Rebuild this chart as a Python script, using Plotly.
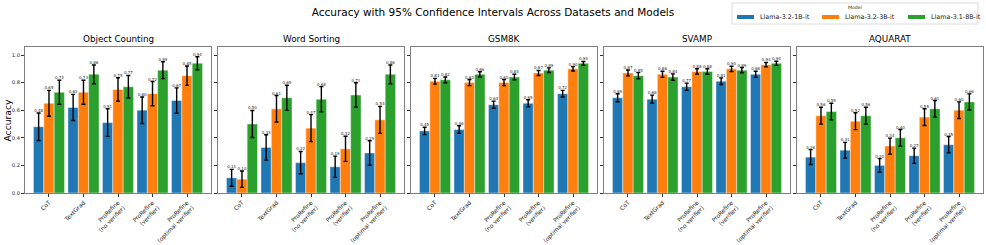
import plotly.graph_objects as go

datasets = ["Object Counting", "Word Sorting", "GSM8K", "SVAMP", "AQUARAT"]
methods = ["CoT", "TextGrad", "ProRefine<br>(no verifier)", "ProRefine<br>(verifier)",
           "ProRefine<br>(optimal verifier)"]
models = ["Llama-3.2-1B-it", "Llama-3.2-3B-it", "Llama-3.1-8B-it"]
colors = ["#1f77b4", "#ff7f0e", "#2ca02c"]

# rows = models (1B, 3B, 8B), columns = methods
object_counting_acc = [[0.48, 0.62, 0.51, 0.60, 0.67],
                       [0.65, 0.73, 0.75, 0.72, 0.85],
                       [0.73, 0.86, 0.77, 0.89, 0.94]]
object_counting_err = [[0.100, 0.095, 0.100, 0.096, 0.092],
                       [0.094, 0.087, 0.085, 0.088, 0.070],
                       [0.087, 0.068, 0.082, 0.061, 0.047]]

word_sorting_acc = [[0.11, 0.33, 0.22, 0.19, 0.29],
                    [0.10, 0.61, 0.47, 0.32, 0.53],
                    [0.50, 0.69, 0.68, 0.71, 0.86]]
word_sorting_err = [[0.061, 0.092, 0.081, 0.077, 0.089],
                    [0.059, 0.096, 0.098, 0.091, 0.098],
                    [0.098, 0.091, 0.091, 0.089, 0.068]]

gsm8k_acc = [[0.45, 0.46, 0.64, 0.65, 0.72],
             [0.81, 0.80, 0.80, 0.87, 0.90],
             [0.82, 0.86, 0.84, 0.89, 0.94]]
gsm8k_err = [[0.027, 0.027, 0.026, 0.026, 0.024],
             [0.021, 0.022, 0.022, 0.018, 0.016],
             [0.021, 0.019, 0.020, 0.017, 0.013]]

svamp_acc = [[0.69, 0.68, 0.77, 0.81, 0.86],
             [0.87, 0.86, 0.88, 0.90, 0.93],
             [0.85, 0.84, 0.88, 0.89, 0.94]]
svamp_err = [[0.029, 0.029, 0.026, 0.024, 0.022],
             [0.021, 0.022, 0.020, 0.019, 0.016],
             [0.022, 0.023, 0.020, 0.019, 0.015]]

aquarat_acc = [[0.26, 0.31, 0.20, 0.27, 0.35],
               [0.56, 0.52, 0.34, 0.55, 0.60],
               [0.59, 0.56, 0.40, 0.61, 0.66]]
aquarat_err = [[0.054, 0.057, 0.049, 0.055, 0.059],
               [0.061, 0.061, 0.058, 0.061, 0.060],
               [0.060, 0.061, 0.060, 0.060, 0.058]]

all_acc = [object_counting_acc, word_sorting_acc, gsm8k_acc, svamp_acc, aquarat_acc]
all_err = [object_counting_err, word_sorting_err, gsm8k_err, svamp_err, aquarat_err]

FONT = "DejaVu Sans"
W, H = 986, 245
L, R, T, B = 25, 3, 47, 52
PW = W - L - R  # 958
PH = H - T - B  # 146
panel_w, gap = 186, 7
bar_w = 0.3
offsets = [-0.3, 0.0, 0.3]


def px_x(x):
    return (x - L) / PW


def px_y(y):
    return (T + PH - y) / PH


fig = go.Figure()
layout = dict()
annotations = []
shapes = []

for k, name in enumerate(datasets):
    xa = "x" if k == 0 else f"x{k+1}"
    ya = "y" if k == 0 else f"y{k+1}"
    left = (k * (panel_w + gap)) / PW
    right = (k * (panel_w + gap) + panel_w) / PW
    xkey = "xaxis" if k == 0 else f"xaxis{k+1}"
    ykey = "yaxis" if k == 0 else f"yaxis{k+1}"
    layout[xkey] = dict(domain=[left, right], anchor=ya, range=[-0.695, 4.695],
                        tickvals=list(range(len(methods))), ticktext=methods,
                        tickangle=-45, tickfont=dict(size=5.8, family=FONT, color="#222"),
                        showline=True, mirror=True, linecolor="#7f7f7f", linewidth=1,
                        ticks="outside", ticklen=3, tickcolor="#333", showgrid=False,
                        zeroline=False, automargin=False)
    layout[ykey] = dict(domain=[0, 1], anchor=xa, range=[0, 1.058],
                        tickvals=[0, 0.2, 0.4, 0.6, 0.8, 1.0],
                        ticktext=["0.0", "0.2", "0.4", "0.6", "0.8", "1.0"],
                        showticklabels=(k == 0),
                        tickfont=dict(size=5.2, family=FONT, color="#222"),
                        showline=True, mirror=True, linecolor="#7f7f7f", linewidth=1,
                        ticks="outside", ticklen=3, tickcolor="#333", showgrid=False,
                        zeroline=False, automargin=False)
    for m, model in enumerate(models):
        xs = [i + offsets[m] for i in range(len(methods))]
        vals = all_acc[k][m]
        errs = all_err[k][m]
        fig.add_trace(go.Bar(
            x=xs, y=vals, width=bar_w, xaxis=xa, yaxis=ya,
            marker=dict(color=colors[m], line=dict(color="rgba(255,255,255,0.7)", width=0.6)),
            error_y=dict(type="data", array=errs, color="black", thickness=1.4, width=2),
            showlegend=False, name=model, hoverinfo="skip"))
        fig.add_trace(go.Scatter(
            x=xs, y=[v + e for v, e in zip(vals, errs)], xaxis=xa, yaxis=ya,
            mode="text", text=[f"{v:.2f}" for v in vals], textposition="top center",
            textfont=dict(size=4.0, family=FONT, color="#222"),
            showlegend=False, hoverinfo="skip"))
    annotations.append(dict(text=name, xref="paper", yref="paper",
                            x=(left + right) / 2, y=1, yanchor="bottom", xanchor="center",
                            yshift=1, showarrow=False,
                            font=dict(size=8.8, family=FONT, color="black")))

# Legend (drawn as a box with colour swatches and labels)
shapes.append(dict(type="rect", xref="paper", yref="paper",
                   x0=px_x(732), x1=px_x(978), y0=px_y(24), y1=px_y(3),
                   line=dict(color="#d3d3d3", width=0.8), fillcolor="white", layer="above"))
annotations.append(dict(text="Model", xref="paper", yref="paper",
                        x=px_x(855), y=px_y(7.5), xanchor="center", yanchor="middle",
                        showarrow=False, font=dict(size=4.6, family=FONT, color="#222")))
legend_swatch_x = [737, 822, 908]
for m, model in enumerate(models):
    sx = legend_swatch_x[m]
    shapes.append(dict(type="rect", xref="paper", yref="paper",
                       x0=px_x(sx), x1=px_x(sx + 17), y0=px_y(19), y1=px_y(15),
                       line=dict(width=0), fillcolor=colors[m], layer="above"))
    annotations.append(dict(text=model, xref="paper", yref="paper",
                            x=px_x(sx + 20.5), y=px_y(17), xanchor="left", yanchor="middle",
                            showarrow=False, font=dict(size=6.4, family=FONT, color="#222")))

annotations.append(dict(text="Accuracy", xref="paper", yref="paper",
                        x=px_x(6.5), y=0.5, xanchor="center", yanchor="middle",
                        textangle=-90, showarrow=False,
                        font=dict(size=9.2, family=FONT, color="black")))

fig.update_layout(
    **layout,
    annotations=annotations,
    shapes=shapes,
    showlegend=False,
    width=W, height=H,
    margin=dict(l=L, r=R, t=T, b=B, pad=0, autoexpand=False),
    paper_bgcolor="white", plot_bgcolor="white",
    barmode="overlay",
    title=dict(text="Accuracy with 95% Confidence Intervals Across Datasets and Models",
               x=0.5, xref="container", xanchor="center", y=1 - 12 / H, yref="container",
               yanchor="middle", font=dict(size=10.5, family=FONT, color="black")),
    font=dict(family=FONT),
)

fig.write_html("out.html", config={"displayModeBar": False},
               post_script="document.body.style.margin='0';")
